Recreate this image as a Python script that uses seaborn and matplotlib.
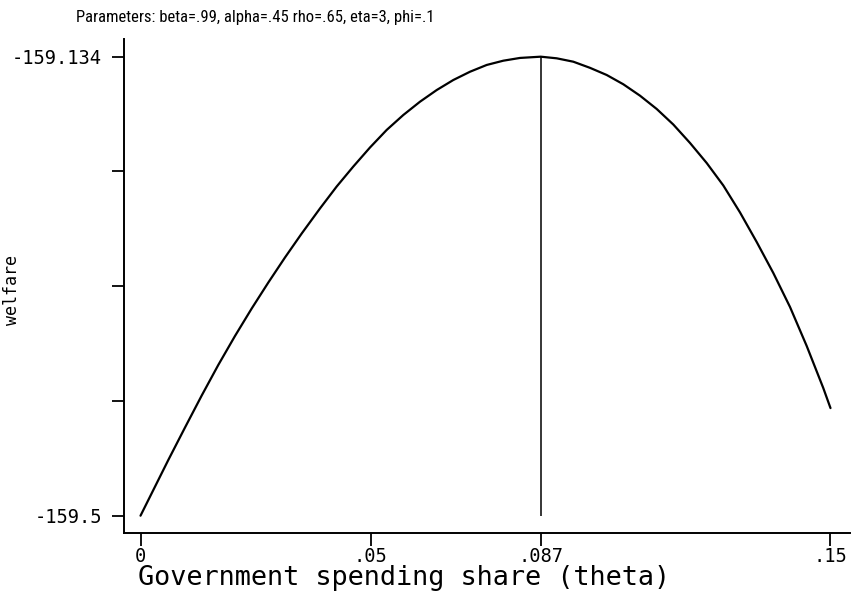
import matplotlib
matplotlib.use("Agg")
import matplotlib.pyplot as plt
from matplotlib import font_manager
import seaborn as sns
import pandas as pd

# ---- data ----
theta = [0.0, 0.00604, 0.00967, 0.01330, 0.01691, 0.02054, 0.02417, 0.02778,
         0.03141, 0.03504, 0.03902, 0.04265, 0.04626, 0.04989, 0.05352,
         0.05713, 0.06076, 0.06439, 0.06800, 0.07163, 0.07526, 0.07887,
         0.08250, 0.087, 0.09048, 0.09409, 0.09772, 0.10135, 0.10496,
         0.10859, 0.11222, 0.11583, 0.11946, 0.12309, 0.12670, 0.13033,
         0.13396, 0.13757, 0.14120, 0.14483, 0.14843, 0.15]
welfare = [-159.5, -159.4556, -159.4297, -159.4042, -159.3798, -159.3567,
           -159.3348, -159.3141, -159.2941, -159.2750, -159.2550, -159.2375,
           -159.2216, -159.2064, -159.1924, -159.1805, -159.1699, -159.1606,
           -159.1526, -159.1460, -159.1406, -159.1372, -159.1350, -159.134,
           -159.1353, -159.1380, -159.1429, -159.1486, -159.1560, -159.1651,
           -159.1757, -159.1881, -159.2028, -159.2188, -159.2367, -159.2582,
           -159.2818, -159.3065, -159.3336, -159.3647, -159.3982, -159.4142]
opt_theta = [0.087]
opt_welfare = [-159.134]
y_floor = -159.5

x_ticks = [0, 0.05, 0.087, 0.15]
x_ticklabels = ["0", ".05", ".087", ".15"]
y_ticks = [-159.5, -159.4085, -159.317, -159.2255, -159.134]
y_ticklabels = ["-159.5", "", "", "", "-159.134"]

title = "Parameters: beta=.99, alpha=.45 rho=.65, eta=3, phi=.1"
xlabel = "Government spending share (theta)"
ylabel = "welfare"

df = pd.DataFrame({"theta": theta, "welfare": welfare})

sns.set_style("ticks")
plt.rcParams["font.family"] = ["DejaVu Sans Mono", "DejaVu Sans"]

# narrow font for the title if one is installed
names = {f.name for f in font_manager.fontManager.ttflist}
title_family = ["DejaVu Sans Mono", "DejaVu Sans"]
for cand in ["Liberation Sans Narrow", "DejaVu Sans Condensed", "Roboto Condensed"]:
    if cand in names:
        title_family = [cand, "DejaVu Sans"]
        break

W, H = 851, 591
fig = plt.figure(figsize=(W / 100, H / 100), dpi=100)
ax = fig.add_axes([124 / W, 1 - 533 / H, (850 - 124) / W, (533 - 39) / H])

sns.lineplot(data=df, x="theta", y="welfare", ax=ax, color="black",
             linewidth=1.6, sort=False)
ax.vlines(opt_theta, y_floor, opt_welfare, color="black", linewidth=1.1)

ax.set_xlim(-0.00359, 0.15424)
ax.set_ylim(-159.5138, -159.1199)

ax.set_xticks(x_ticks)
ax.set_xticklabels(x_ticklabels)
ax.set_yticks(y_ticks)
ax.set_yticklabels(y_ticklabels)

ax.tick_params(axis="both", direction="out", length=9, width=1.3,
               color="black", labelcolor="black", labelsize=13.5)
ax.tick_params(axis="x", pad=1)
ax.tick_params(axis="y", pad=7)

for s in ["top", "right"]:
    ax.spines[s].set_visible(False)
for s in ["left", "bottom"]:
    ax.spines[s].set_linewidth(1.4)
    ax.spines[s].set_color("black")

ax.set_xlabel("")
ax.set_ylabel("")

t_title = fig.text(76 / W, 1 - 22 / H, title, ha="left", va="baseline",
                   fontsize=11, color="black", family=title_family)
t_x = fig.text(404 / W, 1 - 585 / H, xlabel, ha="center", va="baseline",
               fontsize=18, color="black")
t_y = fig.text(12 / W, 1 - 290 / H, ylabel, ha="center", va="center",
               rotation=90, fontsize=12, color="black")

# fit text widths to the reference
renderer = fig.canvas.get_renderer()
for t, target in [(t_title, 359), (t_x, 532)]:
    w = t.get_window_extent(renderer).width
    t.set_fontsize(t.get_fontsize() * target / w)

fig.savefig("out.png", dpi=100)
